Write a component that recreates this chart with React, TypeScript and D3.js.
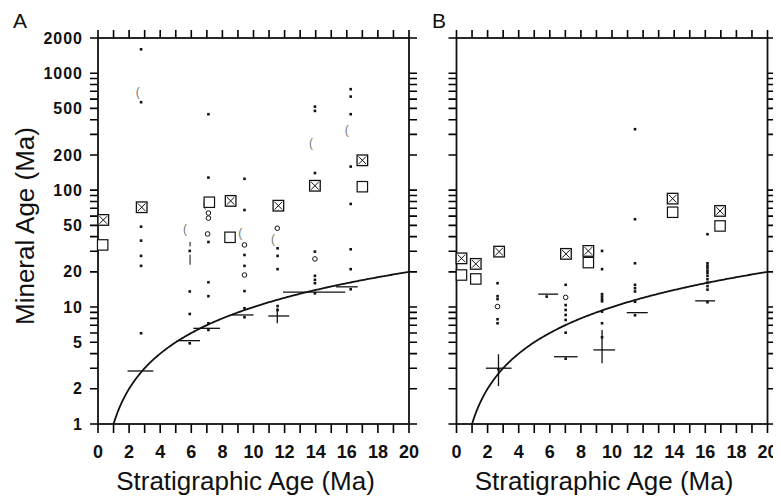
import * as d3 from "d3";

const WIDTH = 781;
const HEIGHT = 498;
const TOP = 38;
const BOTTOM = 424;
const PANEL_W = 311;

// [stratigraphic age, mineral age] in Ma
const aCrossSquares = [[0.34, 55.6], [2.81, 71.4], [8.53, 80.9], [11.6, 73.6], [13.95, 109], [17.0, 180]];
const aSquares = [[0.3, 34], [7.16, 78.8], [8.49, 39.5], [17.0, 107]];
const aCircles = [[7.1, 63.7], [7.1, 57.6], [7.05, 42.2], [9.42, 34], [9.42, 18.8], [11.53, 47.2], [13.95, 25.8]];
const aArcs = [[2.55, 696], [5.6, 46.3], [6.85, 77.3], [9.15, 43.3], [11.25, 38], [13.7, 252], [16.0, 327]];
const aDots = [
  [2.77, 1600], [2.77, 565], [2.77, 48.7], [2.77, 37], [2.77, 27.4], [2.77, 22.5], [2.77, 5.97],
  [5.9, 30.2], [5.9, 13.6], [5.9, 8.73], [5.9, 4.9],
  [7.1, 446], [7.1, 128], [7.1, 36], [7.1, 16.3], [7.1, 12.4], [7.1, 7.27], [7.1, 6.37],
  [9.42, 125], [9.42, 67.6], [9.42, 27.9], [9.42, 22.5], [9.42, 13.7], [9.42, 9.77], [9.42, 8.18],
  [11.55, 31.8], [11.55, 27.4], [11.55, 21.1], [11.55, 10.2], [11.55, 9.44],
  [13.95, 518], [13.95, 476], [13.95, 140], [13.95, 29.8], [13.95, 18.5], [13.95, 17.1], [13.95, 16.0], [13.95, 13.1],
  [16.25, 730], [16.25, 631], [16.25, 446], [16.25, 159], [16.25, 76.2], [16.25, 31.2], [16.25, 21.1], [16.25, 14.2],
];
// [x from, x to, mineral age]
const aBars = [[1.9, 3.56, 2.84], [5.06, 6.56, 5.16], [6.13, 7.85, 6.58], [8.6, 10.0, 8.56], [11.9, 15.9, 13.4], [15.3, 16.7, 14.9]];
// [x, y, x from, x to, y from, y to]
const aCrosses = [[11.53, 8.39, 10.95, 12.3, 7.27, 9.77]];
// [x, y from, y to]
const aStems = [[5.92, 33, 36], [5.92, 23, 28]];

const bCrossSquares = [[0.32, 26.1], [1.24, 23.4], [2.74, 29.8], [7.04, 28.5], [8.48, 30.2], [13.9, 84.6], [16.95, 66.4]];
const bSquares = [[0.32, 18.8], [1.24, 17.4], [8.48, 24.0], [13.9, 64.7], [16.95, 49.4]];
const bCircles = [[2.64, 10.1], [7.02, 12.1]];
const bDots = [
  [2.64, 16.0], [2.64, 12.4], [2.64, 11.7], [2.64, 7.87], [2.64, 7.27], [2.7, 2.93],
  [5.8, 12.3],
  [7.02, 15.5], [7.02, 10.4], [7.02, 9.44], [7.02, 8.56], [7.02, 7.76], [7.02, 6.04], [7.02, 3.62],
  [9.36, 30.2], [9.36, 21.1], [9.36, 12.9], [9.36, 12.3], [9.36, 11.7], [9.36, 11.2], [9.36, 9.14], [9.36, 7.27], [9.36, 5.52],
  [11.48, 332], [11.48, 56.4], [11.48, 23.7], [11.48, 15.5], [11.48, 14.5], [11.48, 13.6], [11.48, 11.1], [11.48, 8.51],
  [16.14, 42], [16.14, 23.7], [16.14, 22.6], [16.14, 21.6], [16.14, 20.5], [16.14, 19.6], [16.14, 18.5],
  [16.14, 17.3], [16.14, 16.2], [16.14, 15.1], [16.14, 14.1], [16.14, 11.0],
];
const bBars = [[5.26, 6.54, 12.9], [6.27, 7.79, 3.76], [10.95, 12.3, 8.96], [15.35, 16.63, 11.3]];
const bCrosses = [[2.7, 3.0, 1.89, 3.54, 2.11, 3.95], [9.36, 4.3, 8.8, 10.2, 3.31, 6.37]];
const bStems: number[][] = [];

const yLabelled = [1, 2, 5, 10, 20, 50, 100, 200, 500, 1000, 2000];
const xTicks = d3.range(0, 21);
const yTicks = [1, 10, 100, 1000].flatMap(k => d3.range(1, 10).map(d => d * k)).filter(v => v <= 2000);
const oneToOne = d3.range(1, 20.05, 0.1);

const FONT = "'Liberation Sans', Arial, sans-serif";
const INK = "#111";
const TICK = 8;

function Panel({ left, letter, letterX, labels, data }) {
  const x = d3.scaleLinear().domain([0, 20]).range([left, left + PANEL_W]);
  const y = d3.scaleLog().domain([1, 2000]).range([BOTTOM, TOP]);
  const right = left + PANEL_W;
  const curve = d3.line<number>().x(d => x(d)).y(d => y(d));

  const tickPath =
    yTicks.map(v => `M${left - TICK},${y(v)}H${left}M${right},${y(v)}H${right + TICK}`).join("") +
    xTicks.map(v => `M${x(v)},${TOP - TICK}V${TOP}M${x(v)},${BOTTOM}V${BOTTOM + TICK + 1}`).join("");

  return (
    <g>
      <text x={letterX} y={28} fontFamily={FONT} fontSize={21} fill={INK}>{letter}</text>

      <path d={tickPath} fill="none" stroke="#000" strokeWidth={1.6} />

      <g fontFamily={FONT} fontWeight="bold" fill={INK}>
        {labels && yLabelled.map(v => (
          <text key={"yl" + v} x={left - 15} y={y(v)} dy="0.35em" textAnchor="end" fontSize={16} letterSpacing={1}>
            {v}
          </text>
        ))}
        {xTicks.filter(v => v % 2 === 0).map(v => (
          <text key={"xl" + v} x={x(v)} y={458} textAnchor="middle" fontSize={18}>{v}</text>
        ))}
      </g>

      <rect x={left} y={TOP} width={PANEL_W} height={BOTTOM - TOP} fill="none" stroke={INK} strokeWidth={1.8} />
      <path d={curve(oneToOne) ?? ""} fill="none" stroke={INK} strokeWidth={1.8} />

      {data.bars.map(([x0, x1, v], i) => (
        <line key={"b" + i} x1={x(x0)} x2={x(x1)} y1={y(v)} y2={y(v)} stroke={INK} strokeWidth={1.3} />
      ))}
      {data.crosses.map(([cx, cy, x0, x1, y0, y1], i) => (
        <g key={"c" + i} stroke={INK} strokeWidth={1.3}>
          <line x1={x(x0)} x2={x(x1)} y1={y(cy)} y2={y(cy)} />
          <line x1={x(cx)} x2={x(cx)} y1={y(y0)} y2={y(y1)} />
        </g>
      ))}
      {data.stems.map(([sx, y0, y1], i) => (
        <line key={"s" + i} x1={x(sx)} x2={x(sx)} y1={y(y0)} y2={y(y1)} stroke="#333" strokeWidth={1.2} />
      ))}
      {data.dots.map(([dx, dy], i) => (
        <rect key={"d" + i} x={x(dx) - 1.3} y={y(dy) - 1.3} width={2.6} height={2.6} fill={INK} />
      ))}
      {data.circles.map(([cx, cy], i) => (
        <circle key={"o" + i} cx={x(cx)} cy={y(cy)} r={2.3} fill="#fff" stroke={INK} strokeWidth={1} />
      ))}
      {data.arcs.map(([ax, ay], i) => (
        <text key={"a" + i} x={x(ax)} y={y(ay)} textAnchor="middle" dominantBaseline="central"
          fontFamily={FONT} fontSize={12} fill="#777">(</text>
      ))}
      {data.squares.map(([sx, sy], i) => (
        <rect key={"q" + i} x={x(sx) - 5.2} y={y(sy) - 5.2} width={10.4} height={10.4} fill="#fff" stroke={INK} strokeWidth={1.2} />
      ))}
      {data.crossSquares.map(([sx, sy], i) => {
        const cx = x(sx), cy = y(sy), h = 5.3, e = 1.5;
        return (
          <g key={"x" + i} stroke={INK}>
            <rect x={cx - h} y={cy - h} width={2 * h} height={2 * h} fill="#fff" strokeWidth={1.3} />
            <path d={`M${cx - h + e},${cy - h + e}L${cx + h - e},${cy + h - e}M${cx + h - e},${cy - h + e}L${cx - h + e},${cy + h - e}`} strokeWidth={1} />
          </g>
        );
      })}
      <text x={left + PANEL_W / 2 - 8} y={490} textAnchor="middle" fontFamily={FONT} fontSize={26} fill={INK}>
        Stratigraphic Age (Ma)
      </text>
    </g>
  );
}

export default function App() {
  const panelA = { dots: aDots, circles: aCircles, arcs: aArcs, squares: aSquares, crossSquares: aCrossSquares, bars: aBars, crosses: aCrosses, stems: aStems };
  const panelB = { dots: bDots, circles: bCircles, arcs: [], squares: bSquares, crossSquares: bCrossSquares, bars: bBars, crosses: bCrosses, stems: bStems };
  return (
    <svg width={WIDTH} height={HEIGHT} style={{ display: "block", margin: "-8px 0 0 -8px" }}>
      <text transform="rotate(-90)" x={-226} y={34} textAnchor="middle" fontFamily={FONT} fontSize={26} fill={INK}>
        Mineral Age (Ma)
      </text>
      <Panel left={98} letter="A" letterX={13} labels={true} data={panelA} />
      <Panel left={456.5} letter="B" letterX={432} labels={false} data={panelB} />
    </svg>
  );
}
